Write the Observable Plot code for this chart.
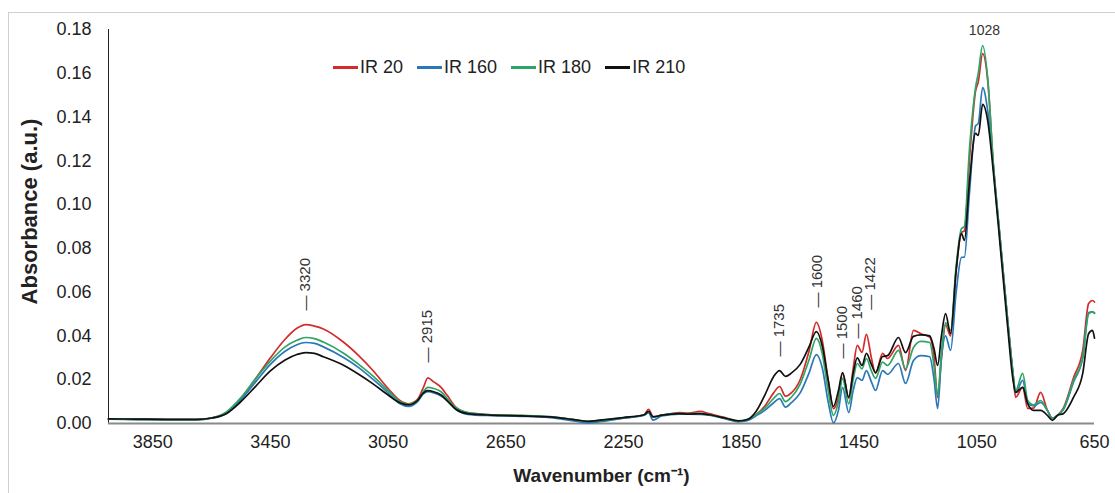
<!DOCTYPE html>
<html>
<head>
<meta charset="utf-8">
<script src="https://cdn.jsdelivr.net/npm/d3@7"></script>
<script src="https://cdn.jsdelivr.net/npm/@observablehq/plot@0.6"></script>
<style>
  html, body { margin: 0; padding: 0; background: #fff; overflow: hidden; }
  #wrap { position: relative; width: 1115px; height: 493px; font-family: "Liberation Sans", Arial, sans-serif; }
  #border { position: absolute; left: 8px; top: 12px; width: 1120px; height: 500px; border: 1.5px solid #cfcfcf; box-sizing: border-box; pointer-events: none; }
  #legend { position: absolute; top: 57px; left: 333px; display: flex; gap: 14px; font-size: 18px; color: #222; white-space: nowrap; }
  #legend .item { display: flex; align-items: center; }
  #legend .sw { display: inline-block; width: 25px; height: 2.5px; margin-right: 2px; }
</style>
</head>
<body>
<div id="wrap"><div id="border"></div><div id="chart"></div><div id="legend"></div></div>
<script>
// ---- data ----
const wavenumbers = [4000,3900,3800,3700,3650,3600,3550,3500,3450,3400,3360,3330,3300,3270,3200,3150,3100,3050,3010,2980,2950,2930,2915,2895,2870,2850,2820,2780,2700,2600,2500,2420,2370,2330,2250,2180,2165,2150,2120,2060,2030,1990,1960,1900,1860,1830,1800,1770,1740,1720,1700,1680,1650,1620,1595,1575,1555,1537,1520,1506,1485,1470,1456,1440,1425,1408,1394,1370,1353,1316,1292,1265,1240,1210,1195,1183,1170,1156,1139,1120,1102,1092,1075,1054,1045,1030,1013,993,969,945,928,918,894,877,857,833,810,793,776,755,721,690,670,657,650];
const ir20  = [.0020,.0019,.0018,.0018,.0025,.0050,.0115,.0205,.0300,.0385,.0435,.0452,.0445,.0432,.0370,.0310,.0240,.0160,.0105,.0090,.0110,.0165,.0208,.0190,.0165,.0130,.0075,.0050,.0040,.0036,.0030,.0018,.0008,.0012,.0025,.0040,.0065,.0032,.0038,.0050,.0048,.0055,.0045,.0025,.0010,.0015,.0040,.0080,.0140,.0169,.0125,.0140,.0200,.0330,.0462,.0380,.0200,.0068,.0120,.0230,.0115,.0250,.0357,.0325,.0407,.0300,.0229,.0320,.0297,.0357,.0242,.0425,.0410,.0395,.0300,.0119,.0300,.0450,.0400,.0700,.0873,.0880,.1200,.1520,.1560,.1690,.1570,.1170,.0820,.0470,.0242,.0120,.0165,.0069,.0070,.0142,.0060,.0023,.0037,.0073,.0210,.0334,.0548,.0562,.0555];
const ir160 = [.0020,.0018,.0017,.0017,.0024,.0046,.0108,.0190,.0270,.0330,.0360,.0370,.0366,.0350,.0300,.0255,.0200,.0140,.0090,.0078,.0100,.0135,.0145,.0140,.0125,.0105,.0065,.0042,.0036,.0033,.0027,.0012,.0003,.0008,.0024,.0038,.0048,.0015,.0035,.0043,.0043,.0042,.0038,.0020,.0008,.0013,.0035,.0060,.0095,.0114,.0075,.0095,.0140,.0230,.0315,.0255,.0100,.0003,.0060,.0165,.0050,.0150,.0210,.0197,.0242,.0190,.0151,.0242,.0225,.0274,.0183,.0288,.0310,.0305,.0200,.0069,.0300,.0400,.0334,.0600,.0759,.0760,.1050,.1360,.1370,.1535,.1430,.1170,.0820,.0470,.0242,.0140,.0197,.0095,.0080,.0096,.0060,.0023,.0037,.0065,.0190,.0300,.0507,.0510,.0505];
const ir180 = [.0020,.0019,.0018,.0018,.0025,.0052,.0118,.0205,.0285,.0350,.0380,.0393,.0388,.0372,.0320,.0270,.0215,.0150,.0100,.0088,.0105,.0145,.0165,.0160,.0145,.0115,.0072,.0050,.0040,.0037,.0031,.0018,.0010,.0014,.0027,.0040,.0052,.0030,.0038,.0046,.0045,.0045,.0040,.0022,.0010,.0018,.0040,.0070,.0115,.0137,.0100,.0120,.0180,.0290,.0389,.0320,.0150,.0037,.0100,.0206,.0090,.0200,.0274,.0250,.0297,.0240,.0206,.0280,.0265,.0334,.0250,.0347,.0375,.0370,.0260,.0128,.0320,.0460,.0425,.0720,.0890,.0900,.1250,.1536,.1600,.1727,.1580,.1170,.0820,.0470,.0242,.0150,.0229,.0105,.0085,.0105,.0060,.0023,.0037,.0068,.0197,.0302,.0500,.0510,.0503];
const ir210 = [.0021,.0020,.0019,.0019,.0025,.0045,.0100,.0170,.0240,.0290,.0315,.0324,.0320,.0305,.0265,.0225,.0180,.0130,.0095,.0085,.0105,.0140,.0150,.0145,.0130,.0105,.0065,.0045,.0038,.0035,.0030,.0018,.0010,.0015,.0027,.0040,.0055,.0030,.0038,.0045,.0043,.0045,.0040,.0023,.0012,.0018,.0055,.0130,.0215,.0242,.0215,.0230,.0270,.0350,.0420,.0355,.0200,.0078,.0150,.0233,.0120,.0230,.0300,.0265,.0320,.0270,.0233,.0306,.0310,.0393,.0324,.0398,.0405,.0400,.0340,.0265,.0400,.0502,.0410,.0700,.0868,.0836,.1100,.1325,.1316,.1458,.1385,.1140,.0790,.0440,.0210,.0142,.0165,.0091,.0060,.0060,.0037,.0014,.0037,.0046,.0120,.0229,.0410,.0425,.0390];

const seriesNames  = ["IR 20", "IR 160", "IR 180", "IR 210"];
const seriesColors = ["#d42a2a", "#2b78b8", "#2ea566", "#111111"];
const seriesValues = [ir20, ir160, ir180, ir210];

const xTicks = [3850, 3450, 3050, 2650, 2250, 1850, 1450, 1050, 650];
const yTicks = [0, 0.02, 0.04, 0.06, 0.08, 0.10, 0.12, 0.14, 0.16, 0.18];
const xDomain = [4000, 650];
const yDomain = [0, 0.18];

// peak annotations (vertical labels), position
const peakLabels = ["3320", "2915", "1735", "1600", "1500", "1460", "1422"];
const peakX      = [3331, 2916, 1720, 1591, 1506, 1455, 1411];
const peakY      = [0.0516, 0.0279, 0.0306, 0.053, 0.0297, 0.0388, 0.052];
const topLabel = "1028", topX = 1024, topY = 0.1797;

// ---- build table ----
const rows = [];
seriesNames.forEach((name, s) => {
  wavenumbers.forEach((w, i) => rows.push({wn: w, value: seriesValues[s][i], series: name}));
});
const peaks = peakLabels.map((t, i) => ({text: "— " + t, x: peakX[i], y: peakY[i]}));

const chart = Plot.plot({
  width: 1115,
  height: 493,
  marginLeft: 108,
  marginRight: 21,
  marginTop: 29,
  marginBottom: 70,
  style: {fontFamily: "Liberation Sans, Arial, sans-serif", background: "transparent"},
  x: {domain: xDomain},
  y: {domain: yDomain},
  color: {domain: seriesNames, range: seriesColors},
  marks: [
    Plot.ruleX([xDomain[0]], {stroke: "#222", strokeWidth: 1}),
    Plot.ruleY([yDomain[0]], {stroke: "#8a8a8a", strokeWidth: 2}),
    Plot.axisY(yTicks, {tickSize: 0, tickPadding: 17, tickFormat: d3.format(".2f"), fontSize: 18, fill: "#222", label: null}),
    Plot.axisX(xTicks, {tickSize: 0, tickPadding: 12, tickFormat: d => String(d), fontSize: 18, fill: "#222", label: null}),
    Plot.line(rows, {x: "wn", y: "value", z: "series", stroke: "series", strokeWidth: 1.7, curve: "monotone-x"}),
    Plot.text(peaks, {x: "x", y: "y", text: "text", rotate: -90, textAnchor: "start", lineAnchor: "middle", fontSize: 15, fill: "#333"}),
    Plot.text([topLabel], {x: () => topX, y: () => topY, text: d => d, textAnchor: "middle", lineAnchor: "middle", fontSize: 14, fill: "#333"}),
    Plot.text(["Absorbance (a.u.)"], {frameAnchor: "left", dx: -79, dy: -15, rotate: -90, text: d => d, textAnchor: "middle", lineAnchor: "middle", fontSize: 22, fontWeight: "bold", fill: "#222"}),
    Plot.text(["Wavenumber (cm⁻¹)"], {frameAnchor: "bottom", dy: 52, text: d => d, textAnchor: "middle", lineAnchor: "middle", fontSize: 19, fontWeight: "bold", fill: "#222"})
  ]
});
document.getElementById("chart").appendChild(chart);

// legend
const legend = document.getElementById("legend");
seriesNames.forEach((name, i) => {
  const item = document.createElement("span");
  item.className = "item";
  const sw = document.createElement("span");
  sw.className = "sw";
  sw.style.background = seriesColors[i];
  item.appendChild(sw);
  item.appendChild(document.createTextNode(name));
  legend.appendChild(item);
});
</script>
</body>
</html>
